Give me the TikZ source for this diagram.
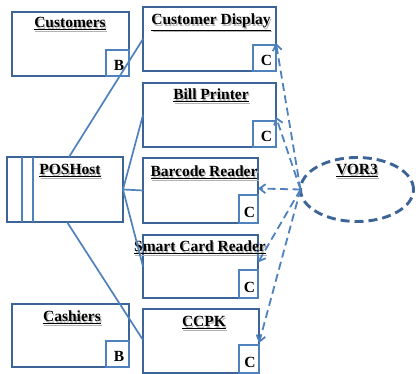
\documentclass[tikz,border=0pt]{standalone}
\usepackage{fontspec}
\setmainfont{Liberation Serif}
\usetikzlibrary{arrows.meta,shapes.geometric}
\definecolor{boxblue}{HTML}{3C6496}
\definecolor{linkblue}{HTML}{4F81BD}
% underlined bold title with a soft grey drop shadow
\newcommand{\shadowtitle}[1]{\makebox[0pt][l]{\hspace{1.2pt}\raisebox{-1.2pt}{\textcolor{black!30}{\underline{#1}}}}\underline{#1}}
\begin{document}
\begin{tikzpicture}[x=1pt,y=-1pt,
  classbox/.style={draw=boxblue,line width=2.9pt,fill=white,inner sep=0pt,outer sep=0pt},
  tagbox/.style={draw=linkblue,line width=1.7pt,inner sep=0pt,outer sep=0pt,
    minimum width=23pt,minimum height=26pt,anchor=south east},
  title/.style={font=\fontsize{15.5}{18}\selectfont\bfseries,anchor=base,inner sep=0pt},
  tag/.style={font=\fontsize{15.5}{18}\selectfont\bfseries,inner sep=0pt},
  assoc/.style={draw=linkblue,line width=1.7pt},
  dep/.style={draw=linkblue,line width=1.8pt,dash pattern=on 8pt off 4.5pt,
    -{Straight Barb[length=6pt,width=9pt]}},
]
\useasboundingbox (0,0) rectangle (416,374);

% class boxes
\node[classbox,minimum width=117pt,minimum height=64pt] (cust)  at (70.5,44)   {};
\node[classbox,minimum width=133pt,minimum height=64pt] (disp)  at (209.5,39)  {};
\node[classbox,minimum width=133pt,minimum height=64pt] (bill)  at (209.5,115) {};
\node[classbox,minimum width=115pt,minimum height=65pt] (barc)  at (200.5,190.5) {};
\node[classbox,minimum width=115pt,minimum height=63pt] (smart) at (200.5,266.5) {};
\node[classbox,minimum width=116pt,minimum height=64pt] (ccpk)  at (201,341)   {};
\node[classbox,minimum width=117pt,minimum height=63pt] (cash)  at (70.5,335.5) {};
\node[classbox,minimum width=116pt,minimum height=65pt] (pos)   at (65,189.5)  {};

% POSHost side bars
\draw[draw=linkblue,line width=1.7pt] ([xshift=15pt]pos.north west) -- ([xshift=15pt]pos.south west);
\draw[draw=linkblue,line width=1.7pt] ([xshift=26pt]pos.north west) -- ([xshift=26pt]pos.south west);

% corner tags
\node[tagbox] (custtag)  at (cust.south east)  {};
\node[tagbox] (cashtag)  at (cash.south east)  {};
\node[tagbox] (disptag)  at (disp.south east)  {};
\node[tagbox] (billtag)  at (bill.south east)  {};
\node[tagbox,minimum width=19pt,minimum height=28pt] (barctag)  at (barc.south east)  {};
\node[tagbox,minimum width=19pt,minimum height=28pt] (smarttag) at (smart.south east) {};
\node[tagbox,minimum width=20pt,minimum height=28pt] (ccpktag)  at (ccpk.south east)  {};

\node[tag] (custB)  at ([xshift=1.5pt,yshift=-2.5pt]custtag.center)  {B};
\node[tag] (cashB)  at ([xshift=1.5pt,yshift=-2.5pt]cashtag.center)  {B};
\node[tag] (dispC)  at ([xshift=2pt,yshift=-2.5pt]disptag.center)  {C};
\node[tag] (billC)  at ([xshift=2pt,yshift=-2.5pt]billtag.center)  {C};
\node[tag] (barcC)  at ([xshift=1pt,yshift=-3pt]barctag.center)  {C};
\node[tag] (smartC) at ([xshift=1pt,yshift=-3pt]smarttag.center) {C};
\node[tag] (ccpkC)  at ([xshift=1pt,yshift=-3pt]ccpktag.center)  {C};

% titles
\node[title] (custT)  at (70,28)   {\shadowtitle{Customers}};
\node[title] (dispT)  at (211,25)  {\shadowtitle{Customer Display}};
\node[title] (billT)  at (211,100) {\shadowtitle{Bill Printer}};
\node[title] (barcT)  at (204,177) {\shadowtitle{Barcode Reader}};
\node[title] (smartT) at (200,252) {\shadowtitle{Smart Card Reader}};
\node[title] (ccpkT)  at (204,327) {\shadowtitle{CCPK}};
\node[title] (cashT)  at (72,322)  {\shadowtitle{Cashiers}};
\node[title] (posT)   at (70,175)  {\shadowtitle{POSHost}};

% VOR3 ellipse
\node[ellipse,draw=boxblue,line width=2.9pt,dash pattern=on 9pt off 5pt,
  minimum width=113pt,minimum height=64pt,inner sep=0pt,outer sep=0pt] (vor) at (357,189.5) {};
\node[title] (vorT) at (357,175) {\shadowtitle{VOR3}};

% associations from the host
\draw[assoc] ([xshift=4pt]pos.north) -- (disp.west);
\draw[assoc] (pos.east) -- (bill.west);
\draw[assoc] (pos.east) -- (barc.west);
\draw[assoc] (pos.east) -- (smart.west);
\draw[assoc] ([xshift=2pt]pos.south) -- ([yshift=1pt]ccpk.west);

% dependencies from VOR3
\draw[dep] (vor.west) -- ([yshift=-4pt]disp.east);
\draw[dep] (vor.west) -- ([yshift=-2pt]bill.east);
\draw[dep] (vor.west) -- ([yshift=2pt]barc.east);
\draw[dep] (vor.west) -- ([yshift=4pt]smart.east);
\draw[dep] (vor.west) -- ([yshift=-2pt]ccpk.east);
\end{tikzpicture}
\end{document}
